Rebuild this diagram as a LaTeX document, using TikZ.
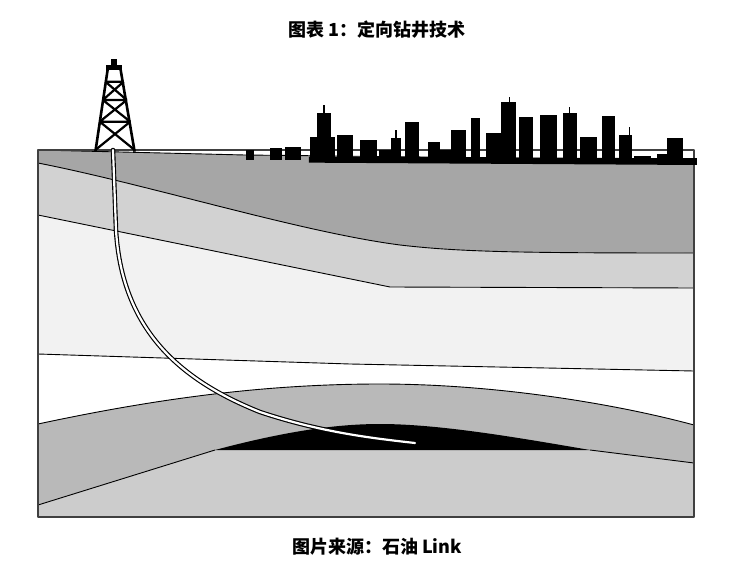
\documentclass[tikz,border=0pt]{standalone}
\usepackage{fontspec}
\newfontfamily\cjk{Noto Sans CJK SC}
\begin{document}
\begin{tikzpicture}[x=1pt,y=-1pt,line join=round,
  edge/.style={draw=black,line width=0.9pt},
  title/.style={font=\cjk\fontsize{18}{20}\selectfont}]
\useasboundingbox (0,0) rectangle (754,580);
\fill[white] (0,0) rectangle (754,580);
% layer 1 (top, dark gray)
\fill[gray!70] (38,150) -- (245,155) -- (694,160) -- (694,253)
  .. controls (520,253) and (460,252) .. (400,245)
  .. controls (300,232) and (150,185) .. (38,163) -- cycle;
% layer 2
\fill[gray!35] (38,163) .. controls (150,185) and (300,232) .. (400,245)
  .. controls (460,252) and (520,253) .. (694,253) -- (694,288) -- (390,287) -- (38,215) -- cycle;
% layer 3
\fill[black!5] (38,215) -- (390,287) -- (694,288) -- (694,371) -- (350,364) -- (38,354) -- cycle;
% layer 5 (gray band)
\fill[gray!55] (38,424) .. controls (150,400) and (260,384) .. (380,384)
  .. controls (500,384) and (620,405) .. (694,425) -- (694,463) -- (590,450) -- (215,450)
  -- (38,505) -- cycle;
% bottom layer
\fill[gray!40] (38,505) -- (215,450) -- (590,450) -- (694,463) -- (694,517) -- (38,517) -- cycle;
% black lens
\fill[black] (215,450) .. controls (290,430) and (340,424) .. (380,424)
  .. controls (440,424) and (520,438) .. (590,450) -- cycle;
% boundary lines
\draw[edge] (38,163) .. controls (150,185) and (300,232) .. (400,245)
  .. controls (460,252) and (520,253) .. (694,253);
\draw[edge] (38,215) -- (390,287) -- (694,288);
\draw[edge] (38,354) -- (350,364) -- (694,371);
\draw[edge] (38,424) .. controls (150,400) and (260,384) .. (380,384)
  .. controls (500,384) and (620,405) .. (694,425);
\draw[edge] (38,505) -- (215,450);
\draw[edge] (590,450) -- (694,463);
\draw[edge] (38,150) -- (245,155) -- (694,160);
\draw[line width=1.2pt,draw=black!75] (38,150) rectangle (694,517);
% well
\coordinate (w0) at (113,150);
\coordinate (w1) at (415,443);
\draw[line width=4.5pt,black,line cap=round] (w0) -- (116,230) .. controls (122,330) and (180,380) .. (260,412) .. controls (320,432) and (370,438) .. (w1);
\draw[line width=2.2pt,white,line cap=round] (w0) -- (116,230) .. controls (122,330) and (180,380) .. (260,412) .. controls (320,432) and (370,438) .. (w1);
% derrick + skyline (zoom coordinates)
\begin{scope}[shift={(30,50)},xscale=0.4359,yscale=0.3333]
  \fill[black] (175,45) rectangle (210,60);
  \fill[black] (185,28) rectangle (200,45);
  \draw[black,line width=2.6pt] (150,305) -- (178,60) (240,305) -- (208,60);
  \draw[black,line width=2.2pt] (160,215) -- (230,215) (167,150) -- (222,150) (173,95) -- (215,95)
    (160,215) -- (222,150) (230,215) -- (167,150) (167,150) -- (215,95) (222,150) -- (173,95)
    (150,300) -- (230,215) (240,300) -- (160,215);
  \fill[black] (640,338) -- (640,320) -- (1530,325) -- (1530,345) -- cycle;
  \foreach \a/\b/\t in {495/515/300,550/578/293,585/622/292,642/700/260,658/690/188,
     705/740/255,757/797/270,828/852/265,860/892/215,912/940/275,965/1000/240,
     1012/1032/205,1045/1080/250,1080/1115/155,1122/1155/200,1170/1210/195,
     1222/1255/190,1262/1300/262,1312/1342/198,1352/1382/255,1385/1425/318,
     1438/1462/313,1462/1497/265,1497/1530/325,940/970/300,800/830/300}
    \fill[black] (\a,330) rectangle (\b,\t);
  \draw[black,line width=1.5pt] (675,188) -- (675,165) (840,265) -- (840,240)
    (1100,155) -- (1100,140) (1238,190) -- (1238,170) (1375,255) -- (1375,230);
\end{scope}
% texts
\node[title] (t) at (377,30) {\bfseries 图表 1：定向钻井技术};
\node[title] (c) at (377,547) {\bfseries 图片来源：石油 Link};
\end{tikzpicture}
\end{document}
